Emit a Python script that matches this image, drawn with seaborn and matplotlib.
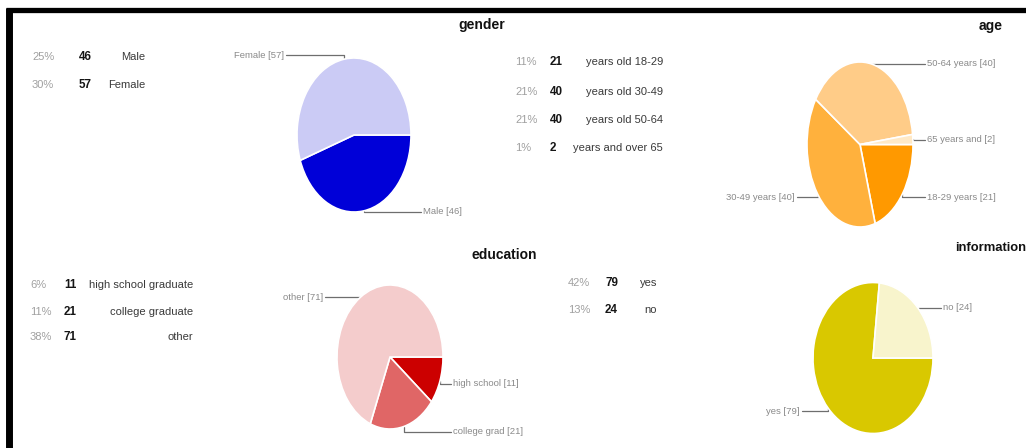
import numpy as np
import matplotlib
matplotlib.use("Agg")
import matplotlib.pyplot as plt
import seaborn as sns

sns.set_theme(style="white")
plt.rcParams['font.family'] = ['Liberation Sans Narrow', 'Liberation Sans', 'DejaVu Sans']

# ---------------- data ----------------
gender_labels = ["Male", "Female"]
gender_short = ["Male", "Female"]
gender_counts = [46, 57]
gender_pcts = ["25%", "30%"]

age_labels = ["years old 18-29", "years old 30-49", "years old 50-64", "years and over 65"]
age_short = ["18-29 years", "30-49 years", "50-64 years", "65 years and"]
age_counts = [21, 40, 40, 2]
age_pcts = ["11%", "21%", "21%", "1%"]

edu_labels = ["high school graduate", "college graduate", "other"]
edu_short = ["high school", "college grad", "other"]
edu_counts = [11, 21, 71]
edu_pcts = ["6%", "11%", "38%"]

info_labels = ["yes", "no"]
info_short = ["yes", "no"]
info_counts = [79, 24]
info_pcts = ["42%", "13%"]

titles = ["gender", "age", "education", "information"]

# ---------------- styles / layout ----------------
W, H = 1026, 448
gender_colors = ["#0000d8", "#cbcbf5"]
age_colors = ["#ff9900", "#ffb13d", "#ffcc88", "#ffe9c6"]
edu_colors = ["#cc0000", "#e06666", "#f4cccc"]
info_colors = ["#d9c800", "#f8f4cc"]

fig = plt.figure(figsize=(W / 100, H / 100), dpi=100)
fig.patch.set_facecolor("white")
ov = fig.add_axes([0, 0, 1, 1], zorder=0)
ov.set_xlim(0, W)
ov.set_ylim(H, 0)
ov.axis("off")

# black frame (screenshot border)
ov.plot([6, W], [10.5, 10.5], color="black", lw=3.8, solid_capstyle="butt")
ov.plot([9, 9], [8.5, H], color="black", lw=5, solid_capstyle="butt")

PCT_C = "#a0a0a0"
CNT_C = "#151515"
LAB_C = "#3a3a3a"
CALL_C = "#8a8a8a"
LINE_C = "#6e6e6e"


def table(pcts, counts, labels, x_pct, x_cnt, x_lab, ys):
    for p, c, l, y in zip(pcts, counts, labels, ys):
        ov.text(x_pct, y, p, color=PCT_C, fontsize=8.0, ha="left", va="center")
        ov.text(x_cnt, y, str(c), color=CNT_C, fontsize=8.4, ha="left", va="center",
                fontweight="bold")
        ov.text(x_lab, y, l, color=LAB_C, fontsize=8.0, ha="right", va="center")


def pie(counts, colors, short, cx, cy, rx, ry, label_pos):
    a = fig.add_axes([(cx - rx) / W, 1 - (cy + ry) / H, 2 * rx / W, 2 * ry / H], zorder=2)
    a.pie(counts, colors=colors, startangle=0, counterclock=False, radius=1,
          wedgeprops=dict(edgecolor="white", linewidth=1.2))
    a.set_aspect("auto")
    a.set_xlim(-1, 1)
    a.set_ylim(-1, 1)
    a.axis("off")
    tot = float(sum(counts))
    cum = np.cumsum([0] + list(counts)) / tot * 360.0
    for i, (name, c) in enumerate(zip(short, counts)):
        mid = np.deg2rad((cum[i] + cum[i + 1]) / 2)
        axp = cx + rx * np.cos(mid)
        ayp = cy + ry * np.sin(mid)
        lx, ly, side = label_pos[i]
        if side == "left":
            ov.plot([axp, axp, lx + 2], [ayp, ly, ly], color=LINE_C, lw=0.9, zorder=1)
            ov.text(lx, ly, f"{name} [{c}]", color=CALL_C, fontsize=6.8,
                    ha="right", va="center")
        else:
            ov.plot([axp, axp, lx - 2], [ayp, ly, ly], color=LINE_C, lw=0.9, zorder=1)
            ov.text(lx, ly, f"{name} [{c}]", color=CALL_C, fontsize=6.8,
                    ha="left", va="center")


# tables
table(gender_pcts, gender_counts, gender_labels, 32, 79, 145, [57, 85])
table(age_pcts, age_counts, age_labels, 515, 550, 663, [62, 92, 120, 148])
table(edu_pcts, edu_counts, edu_labels, 30, 64, 193, [285, 312, 337])
table(info_pcts, info_counts, info_labels, 568, 605, 657, [283, 310])

# titles
title_pos = [(458, 25, 10), (979, 26, 10), (472, 255, 10), (955, 248, 9.4)]
for t, (x, y, fs) in zip(titles, title_pos):
    ov.text(x, y, t, fontsize=fs, fontweight="bold", color="#111111",
            ha="left", va="center", family=["Liberation Sans", "DejaVu Sans"])

# pies
pie(gender_counts, gender_colors, gender_short, 354, 135, 57, 77,
    [(423, 212, "right"), (284, 55, "left")])
pie(age_counts, age_colors, age_short, 860, 144.5, 53, 82.5,
    [(927, 197, "right"), (795, 197, "left"), (927, 64, "right"), (927, 140, "right")])
pie(edu_counts, edu_colors, edu_short, 390, 357, 53, 72,
    [(453, 384, "right"), (453, 432, "right"), (323, 297, "left")])
pie(info_counts, info_colors, info_short, 873, 358, 60, 75.5,
    [(800, 411, "left"), (943, 308, "right")])

fig.savefig("out.png", dpi=100, facecolor="white")
